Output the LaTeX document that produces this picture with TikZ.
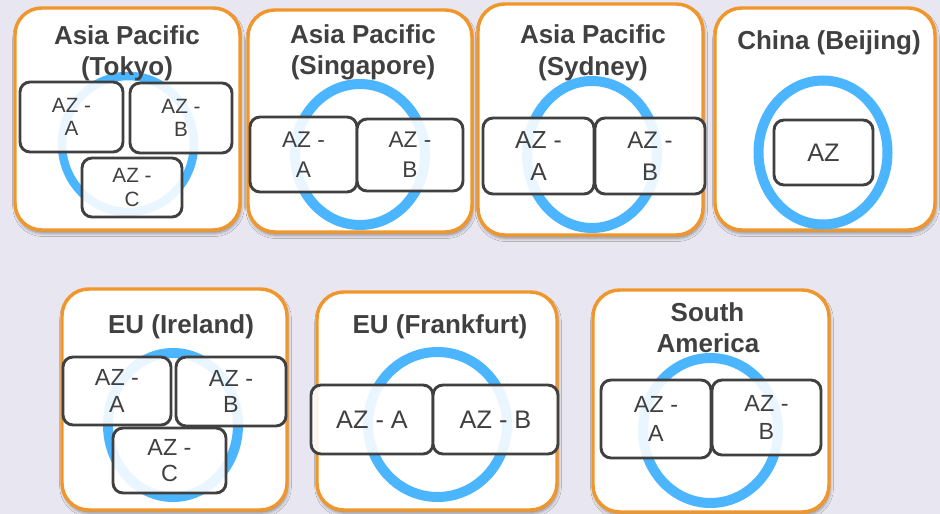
\documentclass[tikz,border=0pt]{standalone}
\usepackage{fontspec}
\setmainfont{Liberation Sans}
\usetikzlibrary{shadows.blur}
\definecolor{bgc}{HTML}{E8E6F0}
\definecolor{orangec}{HTML}{F0962A}
\definecolor{ringc}{HTML}{4CB5FF}
\definecolor{darkc}{HTML}{404040}
\tikzset{
  region/.style={draw=orangec, line width=2.6pt, fill=white, rounded corners=20pt, inner sep=0pt,
    blur shadow={shadow xshift=0.8pt, shadow yshift=-2.4pt, shadow blur radius=2.5pt, shadow opacity=40}},
  ring/.style={draw=ringc, line width=7.5pt},
  azbox/.style={draw=darkc, line width=2.2pt, fill=white, fill opacity=0.88, draw opacity=1,
    text opacity=1, rounded corners=7.5pt, inner sep=0pt, align=center, text=darkc},
  ttl/.style={font=\bfseries\fontsize{19.5}{23}\selectfont, text=darkc, anchor=base, inner sep=0pt},
}
\newcommand{\regionbox}[5]{\node[region, minimum width={(#4-#2)*0.75pt}, minimum height={(#5-#3)*0.75pt}] (#1) at ({(#2+#4)/2},{(#3+#5)/2}) {};}
\newcommand{\azb}[8]{\node[azbox, minimum width={(#4-#2)*0.75pt}, minimum height={(#5-#3)*0.75pt}, font=\fontsize{#6}{#7}\selectfont] (#1) at ({(#2+#4)/2},{(#3+#5)/2}) {#8};}
\begin{document}
\begin{tikzpicture}[x=0.75pt,y=-0.75pt]
\fill[bgc] (0,0) rectangle (940,514);
\useasboundingbox (0,0) rectangle (940,514);

% regions
\regionbox{tokyo}{15}{8}{240}{230}
\regionbox{sing}{248}{10}{472}{232}
\regionbox{syd}{478}{4}{703}{235}
\regionbox{beij}{715}{8}{935}{230}
\regionbox{irl}{62}{289}{287}{510}
\regionbox{fra}{317}{292}{557}{510}
\regionbox{sam}{593}{290}{829}{512}

% rings
\draw[ring, line width=6.4pt] (128,144) ellipse [x radius=66, y radius=68];
\draw[ring] (360,154.5) ellipse [x radius=65, y radius=70.5];
\draw[ring] (592,154.5) ellipse [x radius=65, y radius=73.5];
\draw[ring] (823,152.5) ellipse [x radius=64.5, y radius=72];
\draw[ring] (173,425) ellipse [x radius=65, y radius=72];
\draw[ring] (437.5,424.5) ellipse [x radius=69.5, y radius=72.5];
\draw[ring] (710.5,430.5) ellipse [x radius=67.5, y radius=72.5];

% AZ boxes
\azb{tka}{20}{82}{123}{152}{15.5}{17.5}{AZ -\\A}
\azb{tkb}{130}{83}{232}{153}{15.5}{17.5}{AZ -\\B}
\azb{tkc}{82}{158}{182}{217}{15.5}{17.5}{AZ -\\C}
\azb{sga}{250}{117}{357}{192}{17}{22.5}{AZ -\\A}
\azb{sgb}{357}{119}{463}{191}{17}{22.5}{AZ -\\B}
\azb{sya}{483}{118}{594}{194}{18.5}{24}{AZ -\\A}
\azb{syb}{595}{118}{705}{194}{18}{24}{AZ -\\B}
\azb{bja}{774}{120}{873}{185}{19}{23}{AZ}
\azb{ira}{63}{357}{171}{425}{17.5}{20}{AZ -\\A}
\azb{irb}{176}{357}{286}{426}{17.5}{20}{AZ -\\B}
\azb{irc}{113}{428}{226}{493}{17.5}{20}{AZ -\\C}
\azb{fra-a}{311}{385}{433}{454}{19}{23}{AZ - A}
\azb{fra-b}{433}{385}{558}{454}{19}{23}{AZ - B}
\azb{saa}{601}{380}{711}{458}{17.5}{21.5}{AZ -\\A}
\azb{sab}{712}{380}{821}{455}{17.5}{21.5}{AZ -\\B}

% titles
\node[ttl] (tk1) at (127,44) {Asia Pacific};
\node[ttl] (tk2) at (127,75) {(Tokyo)};
\node[ttl] (sg1) at (363,43) {Asia Pacific};
\node[ttl] (sg2) at (363,74) {(Singapore)};
\node[ttl] (sy1) at (593,43) {Asia Pacific};
\node[ttl] (sy2) at (593,75) {(Sydney)};
\node[ttl] (bj1) at (829,50) {China (Beijing)};
\node[ttl] (ir1) at (181,333) {EU (Ireland)};
\node[ttl] (fr1) at (440,333) {EU (Frankfurt)};
\node[ttl] (sa1) at (707.5,321) {South};
\node[ttl] (sa2) at (708,352) {America};
\end{tikzpicture}
\end{document}
